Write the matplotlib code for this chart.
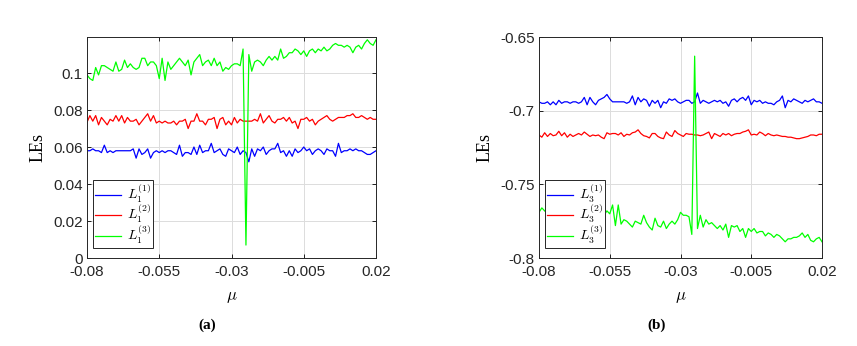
import numpy as np
from matplotlib import pyplot as plt

plt.rcParams['mathtext.fontset'] = 'cm'

mu = np.linspace(-0.08, 0.02, 101)

# panel (a)
a_L1 = [0.058, 0.058, 0.059, 0.058, 0.058, 0.057, 0.061, 0.057, 0.058, 0.057,
        0.058, 0.058, 0.058, 0.058, 0.058, 0.058, 0.059, 0.054, 0.059, 0.056,
        0.057, 0.059, 0.054, 0.057, 0.058, 0.057, 0.058, 0.057, 0.058, 0.058,
        0.057, 0.056, 0.061, 0.055, 0.057, 0.057, 0.056, 0.060, 0.056, 0.061,
        0.057, 0.058, 0.058, 0.062, 0.057, 0.058, 0.059, 0.056, 0.055, 0.059,
        0.058, 0.057, 0.060, 0.056, 0.058, 0.057, 0.052, 0.059, 0.055, 0.059,
        0.058, 0.060, 0.056, 0.058, 0.059, 0.059, 0.062, 0.057, 0.058, 0.055,
        0.058, 0.055, 0.059, 0.057, 0.058, 0.060, 0.058, 0.059, 0.056, 0.058,
        0.059, 0.058, 0.056, 0.059, 0.058, 0.058, 0.055, 0.062, 0.057, 0.058,
        0.058, 0.059, 0.058, 0.059, 0.058, 0.058, 0.057, 0.056, 0.056, 0.057,
        0.058]
a_L2 = [0.0734, 0.077, 0.074, 0.077, 0.072, 0.076, 0.074, 0.072, 0.075, 0.074,
        0.077, 0.074, 0.077, 0.073, 0.076, 0.074, 0.074, 0.075, 0.072, 0.074,
        0.076, 0.078, 0.074, 0.077, 0.073, 0.074, 0.073, 0.074, 0.073, 0.073,
        0.074, 0.072, 0.074, 0.074, 0.075, 0.070, 0.074, 0.074, 0.078, 0.074,
        0.074, 0.072, 0.075, 0.075, 0.076, 0.070, 0.075, 0.076, 0.072, 0.074,
        0.072, 0.076, 0.073, 0.075, 0.074, 0.074, 0.074, 0.074, 0.075, 0.074,
        0.078, 0.073, 0.075, 0.077, 0.074, 0.073, 0.075, 0.075, 0.076, 0.074,
        0.076, 0.073, 0.074, 0.070, 0.075, 0.075, 0.076, 0.074, 0.075, 0.072,
        0.074, 0.075, 0.076, 0.077, 0.075, 0.074, 0.075, 0.076, 0.076, 0.076,
        0.077, 0.077, 0.078, 0.076, 0.076, 0.077, 0.076, 0.075, 0.076, 0.075,
        0.075]
a_L3 = [0.099, 0.097, 0.096, 0.103, 0.099, 0.104, 0.104, 0.103, 0.102, 0.101,
        0.106, 0.101, 0.102, 0.107, 0.103, 0.105, 0.103, 0.102, 0.103, 0.108,
        0.108, 0.104, 0.106, 0.106, 0.104, 0.097, 0.108, 0.096, 0.106, 0.102,
        0.104, 0.106, 0.108, 0.106, 0.104, 0.107, 0.099, 0.106, 0.108, 0.110,
        0.104, 0.106, 0.107, 0.104, 0.108, 0.104, 0.106, 0.101, 0.103, 0.102,
        0.104, 0.105, 0.105, 0.104, 0.113, 0.007, 0.110, 0.101, 0.106, 0.107,
        0.106, 0.104, 0.107, 0.109, 0.107, 0.109, 0.107, 0.113, 0.108, 0.109,
        0.111, 0.111, 0.113, 0.112, 0.110, 0.112, 0.109, 0.112, 0.113, 0.111,
        0.113, 0.112, 0.114, 0.112, 0.113, 0.115, 0.116, 0.115, 0.115, 0.114,
        0.115, 0.114, 0.111, 0.114, 0.115, 0.113, 0.116, 0.118, 0.116, 0.115,
        0.118]

# panel (b)
b_L1 = [-0.694, -0.695, -0.695, -0.694, -0.696, -0.694, -0.696, -0.693, -0.695, -0.694,
        -0.694, -0.695, -0.694, -0.694, -0.695, -0.694, -0.691, -0.696, -0.691, -0.694,
        -0.696, -0.693, -0.692, -0.691, -0.689, -0.692, -0.694, -0.694, -0.694, -0.694,
        -0.694, -0.695, -0.694, -0.690, -0.696, -0.691, -0.694, -0.692, -0.693, -0.697,
        -0.693, -0.695, -0.693, -0.698, -0.694, -0.695, -0.692, -0.693, -0.692, -0.694,
        -0.695, -0.694, -0.693, -0.693, -0.695, -0.694, -0.688, -0.695, -0.693, -0.694,
        -0.695, -0.694, -0.693, -0.694, -0.693, -0.695, -0.694, -0.697, -0.693, -0.692,
        -0.694, -0.692, -0.691, -0.693, -0.690, -0.696, -0.693, -0.694, -0.693, -0.695,
        -0.694, -0.695, -0.695, -0.696, -0.694, -0.693, -0.690, -0.698, -0.693, -0.694,
        -0.692, -0.693, -0.694, -0.695, -0.693, -0.694, -0.693, -0.692, -0.694, -0.694,
        -0.695]
b_L2 = [-0.7165, -0.718, -0.715, -0.7175, -0.7155, -0.717, -0.7165, -0.714, -0.717, -0.715,
        -0.718, -0.716, -0.7175, -0.7165, -0.7155, -0.7165, -0.7145, -0.716, -0.7175, -0.7165,
        -0.717, -0.7165, -0.718, -0.719, -0.715, -0.716, -0.7155, -0.7155, -0.7165, -0.715,
        -0.7175, -0.716, -0.7165, -0.715, -0.7145, -0.713, -0.7155, -0.717, -0.7175, -0.7185,
        -0.7155, -0.7155, -0.7175, -0.7185, -0.719, -0.7145, -0.7165, -0.7175, -0.7135, -0.7155,
        -0.7165, -0.7175, -0.7155, -0.716, -0.716, -0.7165, -0.7165, -0.717, -0.7165, -0.7155,
        -0.7145, -0.719, -0.7155, -0.7165, -0.7175, -0.7155, -0.7165, -0.7155, -0.717, -0.716,
        -0.7155, -0.7155, -0.7145, -0.714, -0.713, -0.7165, -0.716, -0.7165, -0.7145, -0.7155,
        -0.717, -0.7155, -0.7165, -0.717, -0.7165, -0.717, -0.7175, -0.7175, -0.718, -0.718,
        -0.7185, -0.719, -0.719, -0.7185, -0.718, -0.7175, -0.7165, -0.7165, -0.717, -0.716,
        -0.716]
b_L3 = [-0.769, -0.766, -0.768, -0.770, -0.768, -0.771, -0.769, -0.772, -0.770, -0.768,
        -0.771, -0.773, -0.770, -0.772, -0.769, -0.771, -0.774, -0.772, -0.770, -0.773,
        -0.771, -0.772, -0.773, -0.771, -0.768, -0.770, -0.764, -0.778, -0.764, -0.777,
        -0.774, -0.775, -0.777, -0.779, -0.775, -0.776, -0.777, -0.771, -0.776, -0.779,
        -0.781, -0.773, -0.778, -0.779, -0.775, -0.780, -0.777, -0.775, -0.777, -0.774,
        -0.769, -0.771, -0.771, -0.772, -0.784, -0.663, -0.780, -0.771, -0.779, -0.774,
        -0.777, -0.776, -0.778, -0.780, -0.778, -0.781, -0.777, -0.786, -0.778, -0.779,
        -0.778, -0.782, -0.780, -0.786, -0.780, -0.782, -0.780, -0.783, -0.782, -0.782,
        -0.785, -0.783, -0.784, -0.786, -0.784, -0.785, -0.787, -0.789, -0.787, -0.787,
        -0.786, -0.786, -0.785, -0.783, -0.786, -0.784, -0.788, -0.789, -0.787, -0.786,
        -0.789]

xticks = [-0.08, -0.055, -0.03, -0.005, 0.02]
xticklabels = ['-0.08', '-0.055', '-0.03', '-0.005', '0.02']

fig = plt.figure(figsize=(8.57, 3.46), dpi=100)
ax1 = fig.add_axes([87/857, 88/346, 289/857, 221/346])
ax2 = fig.add_axes([539/857, 88/346, 283/857, 221/346])

panels = [
    (ax1, [a_L1, a_L2, a_L3], '1', (0, 0.1195), [0, 0.02, 0.04, 0.06, 0.08, 0.1],
     ['0', '0.02', '0.04', '0.06', '0.08', '0.1']),
    (ax2, [b_L1, b_L2, b_L3], '3', (-0.8, -0.65), [-0.8, -0.75, -0.7, -0.65],
     ['-0.8', '-0.75', '-0.7', '-0.65']),
]
colors = ['#0000ff', '#ff0000', '#00ff00']

for ax, series, sub, ylim, yt, ytl in panels:
    for k, (vals, c) in enumerate(zip(series, colors)):
        ax.plot(mu, vals, color=c, linewidth=0.9,
                label=r'$L_{%s}^{(%d)}$' % (sub, k + 1))
    ax.set_xlim(-0.08, 0.02)
    ax.set_ylim(*ylim)
    ax.set_xticks(xticks)
    ax.set_xticklabels(xticklabels, family='Liberation Sans', fontsize=11, color='#262626')
    ax.set_yticks(yt)
    ax.set_yticklabels(ytl, family='Liberation Sans', fontsize=11, color='#262626')
    ax.tick_params(direction='in', top=True, right=True, length=3, width=0.6)
    ax.tick_params(axis='x', pad=5)
    ax.tick_params(axis='y', pad=3)
    ax.grid(True, color='#dcdcdc', linewidth=0.7)
    ax.set_axisbelow(True)
    for s in ax.spines.values():
        s.set_linewidth(0.7)
        s.set_color('#262626')
    ax.set_xlabel(r'$\mu$', fontsize=12, labelpad=6)
    ax.set_ylabel('LEs', family='Liberation Serif', fontsize=13, labelpad=5)
    leg = ax.legend(loc='lower left', bbox_to_anchor=(0.0, 0.02), fontsize=10,
                    fancybox=False, framealpha=1, edgecolor='#262626',
                    handlelength=1.9, handletextpad=0.4, labelspacing=-0.15,
                    borderpad=0.15, borderaxespad=0.4)
    leg.get_frame().set_linewidth(0.7)

fig.text(207/857, 1 - 325/346, '(a)', family='Liberation Serif', fontweight='bold',
         fontsize=11, ha='center', va='center')
fig.text(657/857, 1 - 325/346, '(b)', family='Liberation Serif', fontweight='bold',
         fontsize=11, ha='center', va='center')

plt.savefig('out.png', dpi=100)
